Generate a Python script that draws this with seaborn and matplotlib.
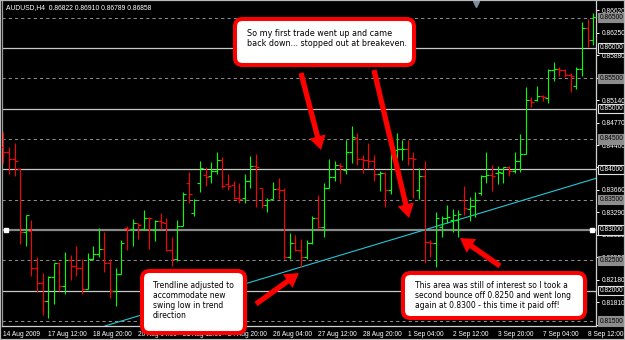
import numpy as np
import pandas as pd
import matplotlib
matplotlib.use("Agg")
import matplotlib.pyplot as plt
import seaborn as sns
from matplotlib.patches import FancyBboxPatch, FancyArrowPatch, Rectangle, ArrowStyle
from matplotlib.transforms import blended_transform_factory

# ---------------- data ----------------
opens = [0.8437, 0.8428, 0.8417, 0.8401, 0.8297, 0.8298, 0.8237, 0.8212, 0.8183, 0.8223,
         0.8245, 0.8207, 0.8251, 0.8241, 0.8238, 0.8203, 0.8252, 0.8260, 0.8268, 0.8245,
         0.8200, 0.8228, 0.8304, 0.8302, 0.8311, 0.8301, 0.8320, 0.8300, 0.8315, 0.8312,
         0.8267, 0.8253, 0.8307, 0.8377, 0.8328, 0.8377, 0.8390, 0.8389, 0.8398, 0.8415,
         0.8375, 0.8374, 0.8352, 0.8352, 0.8381, 0.8406, 0.8369, 0.8341, 0.8351, 0.8367,
         0.8366, 0.8256, 0.8278, 0.8267, 0.8256, 0.8278, 0.8319, 0.8305, 0.8369, 0.8387,
         0.8407, 0.8399, 0.8429, 0.8451, 0.8417, 0.8415, 0.8413, 0.8392, 0.8394, 0.8366,
         0.8432, 0.8433, 0.8434, 0.8418, 0.8366, 0.8389, 0.8281, 0.8279, 0.8305, 0.8319,
         0.8316, 0.8316, 0.8349, 0.8335, 0.8340, 0.8361, 0.8389, 0.8391, 0.8394, 0.8394,
         0.8403, 0.8398, 0.8413, 0.8425, 0.8514, 0.8514, 0.8520, 0.8517, 0.8564, 0.8565,
         0.8564, 0.8555, 0.8537, 0.8566, 0.8632, 0.8613]
highs = [0.8462, 0.8437, 0.8444, 0.8402, 0.8325, 0.8316, 0.8256, 0.8229, 0.8225, 0.8246,
         0.8247, 0.8264, 0.8259, 0.8274, 0.8252, 0.8262, 0.8273, 0.8304, 0.8296, 0.8253,
         0.8238, 0.8283, 0.8307, 0.8318, 0.8312, 0.8333, 0.8321, 0.8317, 0.8328, 0.8319,
         0.8289, 0.8316, 0.8362, 0.8396, 0.8351, 0.8413, 0.8403, 0.8412, 0.8428, 0.8421,
         0.8393, 0.8381, 0.8377, 0.8393, 0.8422, 0.8426, 0.8370, 0.8352, 0.8379, 0.8386,
         0.8369, 0.8295, 0.8291, 0.8285, 0.8283, 0.8323, 0.8358, 0.8377, 0.8417, 0.8414,
         0.8410, 0.8448, 0.8471, 0.8459, 0.8424, 0.8443, 0.8424, 0.8398, 0.8396, 0.8433,
         0.8459, 0.8449, 0.8448, 0.8429, 0.8402, 0.8413, 0.8284, 0.8330, 0.8323, 0.8341,
         0.8335, 0.8333, 0.8373, 0.8354, 0.8363, 0.8391, 0.8428, 0.8407, 0.8405, 0.8404,
         0.8406, 0.8428, 0.8458, 0.8535, 0.8519, 0.8537, 0.8522, 0.8565, 0.8576, 0.8568,
         0.8565, 0.8559, 0.8568, 0.8643, 0.8648, 0.8658]
lows = [0.8410, 0.8393, 0.8389, 0.8277, 0.8274, 0.8224, 0.8197, 0.8160, 0.8155, 0.8178,
        0.8199, 0.8195, 0.8218, 0.8224, 0.8194, 0.8203, 0.8250, 0.8256, 0.8230, 0.8188,
        0.8174, 0.8227, 0.8267, 0.8274, 0.8285, 0.8300, 0.8268, 0.8282, 0.8302, 0.8266,
        0.8241, 0.8249, 0.8306, 0.8345, 0.8323, 0.8362, 0.8373, 0.8377, 0.8393, 0.8369,
        0.8366, 0.8351, 0.8345, 0.8345, 0.8370, 0.8338, 0.8336, 0.8330, 0.8351, 0.8351,
        0.8252, 0.8253, 0.8266, 0.8239, 0.8252, 0.8277, 0.8304, 0.8289, 0.8369, 0.8381,
        0.8378, 0.8393, 0.8410, 0.8407, 0.8394, 0.8402, 0.8380, 0.8365, 0.8338, 0.8360,
        0.8418, 0.8415, 0.8407, 0.8352, 0.8351, 0.8245, 0.8256, 0.8239, 0.8289, 0.8311,
        0.8297, 0.8288, 0.8325, 0.8315, 0.8322, 0.8358, 0.8378, 0.8364, 0.8375, 0.8377,
        0.8389, 0.8394, 0.8395, 0.8425, 0.8502, 0.8513, 0.8512, 0.8510, 0.8545, 0.8553,
        0.8552, 0.8528, 0.8533, 0.8553, 0.8602, 0.8605]
closes = [0.8428, 0.8417, 0.8414, 0.8296, 0.8324, 0.8237, 0.8212, 0.8183, 0.8223, 0.8245,
          0.8207, 0.8251, 0.8240, 0.8238, 0.8203, 0.8252, 0.8260, 0.8268, 0.8245, 0.8200,
          0.8227, 0.8278, 0.8302, 0.8311, 0.8308, 0.8320, 0.8319, 0.8315, 0.8313, 0.8267,
          0.8253, 0.8307, 0.8359, 0.8360, 0.8349, 0.8402, 0.8388, 0.8398, 0.8415, 0.8373,
          0.8373, 0.8352, 0.8351, 0.8381, 0.8406, 0.8403, 0.8341, 0.8349, 0.8368, 0.8366,
          0.8256, 0.8278, 0.8267, 0.8256, 0.8278, 0.8319, 0.8305, 0.8369, 0.8387, 0.8407,
          0.8406, 0.8429, 0.8454, 0.8417, 0.8415, 0.8413, 0.8392, 0.8394, 0.8366, 0.8432,
          0.8433, 0.8434, 0.8418, 0.8417, 0.8389, 0.8281, 0.8279, 0.8319, 0.8319, 0.8322,
          0.8325, 0.8327, 0.8336, 0.8340, 0.8349, 0.8389, 0.8391, 0.8389, 0.8395, 0.8403,
          0.8398, 0.8413, 0.8425, 0.8514, 0.8511, 0.8520, 0.8519, 0.8564, 0.8565, 0.8564,
          0.8555, 0.8553, 0.8566, 0.8632, 0.8613, 0.8651]

date_labels = ["14 Aug 2009", "17 Aug 12:00", "18 Aug 20:00", "20 Aug 04:00", "21 Aug 12:00",
               "24 Aug 20:00", "26 Aug 04:00", "27 Aug 12:00", "28 Aug 20:00", "1 Sep 04:00",
               "2 Sep 12:00", "3 Sep 20:00", "7 Sep 04:00", "8 Sep 12:00"]
label_every = 8

# price-scale ticks; the two hidden under level boxes carry no text
price_ticks = [0.86620, 0.86250, 0.85880, 0.85510, 0.85140, 0.84770, 0.84400, 0.84030,
               0.83660, 0.83290, 0.82920, 0.82550, 0.82180, 0.81810, 0.81440]
price_tick_text = ["0.86620", "0.86250", "0.85880", "", "0.85140", "0.84770", "0.84400", "",
                   "0.83660", "0.83290", "0.82920", "0.82550", "0.82180", "0.81810", "0.81440"]
solid_levels = [0.860, 0.850, 0.840, 0.820]
selected_level = 0.830
dashed_levels = [0.865, 0.855, 0.845, 0.835, 0.825, 0.815]

trend_pts = [(53, 0.8239), (90, 0.8342)]

title_text = "AUDUSD,H4  0.86822 0.86910 0.86789 0.86858"
note1 = ["So my first trade went up and came", "back down... stopped out at breakeven."]
note2 = ["Trendline adjusted to", "accommodate new", "swing low in trend", "direction"]
note3 = ["This area was still of interest so I took a",
         "second bounce off 0.8250 and went long",
         "again at 0.8300 - this time it paid off!"]

# ---------------- frame ----------------
df = pd.DataFrame({"open": opens, "high": highs, "low": lows, "close": closes})
df["bar"] = np.arange(len(df))
df["dir"] = np.where(df["close"] >= df["open"], "up", "down")
palette = {"up": "#00ff00", "down": "#ff0000"}

sns.set_theme(style="dark", rc={"axes.facecolor": "black", "figure.facecolor": "black",
                                "axes.grid": False})
plt.rcParams["font.family"] = ["Liberation Sans", "DejaVu Sans"]

W, H = 625, 340
fig = plt.figure(figsize=(W / 100, H / 100), dpi=100, facecolor="black")
ax = fig.add_axes([2 / W, 14 / H, 594 / W, 325 / H])
ax.set_facecolor("black")
ax.set_xlim(-0.23, 105.5)
ax.set_ylim(0.81418, 0.86773)

def P(x, y):
    return (x / W, 1 - y / H)

# level lines
for lv in solid_levels:
    ax.axhline(lv, color="#c8c8c8", lw=0.9, zorder=1)
ax.axhline(selected_level, color="#8a8a8a", lw=1.6, zorder=1)
for lv in dashed_levels:
    ax.axhline(lv, color="#8c8c8c", lw=0.75, ls=(0, (3, 3)), zorder=1)

# trendline
ax.axline(trend_pts[0], trend_pts[1], color="#22c8d8", lw=0.8, zorder=3)

# OHLC bars
cols = df["dir"].map(palette)
ax.vlines(df["bar"], df["low"], df["high"], colors=cols, lw=0.8, zorder=4)
for d, g in df.groupby("dir"):
    ax.plot(g["bar"], g["open"], ls="none", marker=0, ms=2.0, mew=0.8,
            color=palette[d], zorder=4)
    ax.plot(g["bar"], g["close"], ls="none", marker=1, ms=2.0, mew=0.8,
            color=palette[d], zorder=4)

# selection handles on the 0.83 line
bt = blended_transform_factory(ax.transAxes, ax.transData)
ax.plot([0.006, 0.9925], [selected_level, selected_level], ls="none", marker="s", ms=3,
        color="white", transform=bt, zorder=5, clip_on=False)
ax.plot([0.798], [0.992], marker="v", ms=4, color="#7d8aa0", transform=ax.transAxes,
        zorder=5)

# axes styling
ax.spines["top"].set_visible(False)
ax.spines["left"].set_color("#9a9a9a")
ax.spines["bottom"].set_color("#d0d0d0")
ax.spines["right"].set_color("#d0d0d0")
for s in ax.spines.values():
    s.set_linewidth(0.9)

ax.set_xticks(np.arange(0, len(df), label_every)[:len(date_labels)])
ax.set_xticklabels(date_labels)
for lbl in ax.get_xticklabels():
    lbl.set_ha("left")
ax.tick_params(axis="x", colors="white", labelsize=4.8, length=3, width=0.7, pad=0.5,
               direction="out")
ax.yaxis.tick_right()
ax.set_yticks(price_ticks)
ax.set_yticklabels(price_tick_text)
ax.tick_params(axis="y", colors="white", labelsize=4.8, length=2.5, width=0.7, pad=1.5)
ax.set_xlabel("")
ax.set_ylabel("")

# boxed level labels on the price scale
for lv in solid_levels + [selected_level]:
    ax.text(1.0055, lv, f"{lv:.5f}", transform=bt, fontsize=4.8, color="white",
            va="center", ha="left", zorder=6,
            bbox=dict(boxstyle="square,pad=0.18", fc="black", ec="#e0e0e0", lw=0.8))
for lv in dashed_levels:
    ax.text(1.0055, lv, f"{lv:.5f}", transform=bt, fontsize=4.8, color="black",
            va="center", ha="left", zorder=6,
            bbox=dict(boxstyle="square,pad=0.18", fc="#8c8c8c", ec="#8c8c8c", lw=0.8))

# title
fig.text(*P(6, 8), title_text, color="white", fontsize=4.9, va="center", ha="left")

# annotation boxes
def note_box(x0, y0, x1, y1, lines, tx, ty0, dy, fs):
    (fx0, fy1) = P(x0, y1)
    box = FancyBboxPatch((fx0, fy1), (x1 - x0) / W, (y1 - y0) / H,
                         boxstyle="round,pad=0,rounding_size=0.012",
                         transform=fig.transFigure, fc="white", ec="#ff0000", lw=2.9,
                         zorder=20, mutation_aspect=W / H)
    fig.patches.append(box)
    for i, t in enumerate(lines):
        fig.text(*P(tx, ty0 + i * dy), t, color="black", fontsize=fs, va="center",
                 ha="left", zorder=21, family=["DejaVu Sans"])

note_box(235, 19, 414, 65, note1, 247, 33, 10.5, 5.8)
note_box(142, 271, 245, 333, note2, 153, 285, 10.2, 5.5)
note_box(403, 273, 585, 318, note3, 415, 286, 9.8, 5.5)

# arrows
arrow_style = ArrowStyle.Simple(head_length=10, head_width=12, tail_width=3.8)
for (a, b) in [((301, 73), (321, 150)), ((374, 70), (409, 218)),
               ((256, 304), (299, 273)), ((500, 266), (460, 238))]:
    arr = FancyArrowPatch(P(*a), P(*b), transform=fig.transFigure, arrowstyle=arrow_style,
                          mutation_scale=1, color="#ff0000", lw=0, zorder=22,
                          shrinkA=0, shrinkB=0)
    fig.patches.append(arr)

# outer frame
fig.patches.append(Rectangle((0, 0), 1, 1, transform=fig.transFigure, fill=False,
                             ec="#b8b8b8", lw=1.6, zorder=30))

fig.savefig("out.png", dpi=100, facecolor="black")
